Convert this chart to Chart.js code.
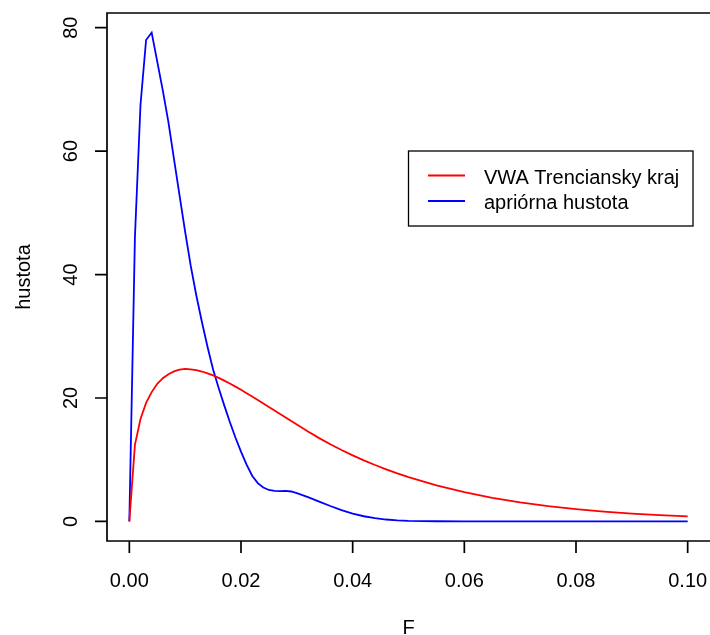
<!DOCTYPE html>
<html lang="sk">

<head>
  <meta charset="UTF-8">
  <title>hustota F</title>
  <style>
    html, body {
      margin: 0;
      padding: 0;
      background: #ffffff;
    }

    #chart-box {
      width: 710px;
      height: 635px;
    }
  </style>
</head>

<body>
  <div id="chart-box">
    <canvas id="densityChart" width="710" height="635"></canvas>
  </div>

  <script src="https://cdn.jsdelivr.net/npm/chart.js@4.4.1/dist/chart.umd.min.js"></script>
  <script>
    // F grid the two densities were read on
    const fValues = [
      0.000, 0.001, 0.002, 0.003, 0.004, 0.005, 0.006, 0.007, 0.008, 0.009, 0.010,
      0.011, 0.012, 0.013, 0.014, 0.015, 0.016, 0.017, 0.018, 0.019, 0.020,
      0.021, 0.022, 0.023, 0.024, 0.025, 0.026, 0.027, 0.028, 0.029, 0.030,
      0.032, 0.034, 0.036, 0.038, 0.040, 0.042, 0.044, 0.046, 0.048, 0.050,
      0.055, 0.060, 0.065, 0.070, 0.075, 0.080, 0.085, 0.090, 0.095, 0.100
    ];
    const vwaDensity = [
      0, 12.4, 16.6, 19.2, 20.95, 22.3, 23.2, 23.85, 24.3, 24.58, 24.7,
      24.65, 24.51, 24.29, 24.0, 23.65, 23.25, 22.81, 22.34, 21.84, 21.32,
      20.78, 20.23, 19.67, 19.1, 18.53, 17.96, 17.39, 16.82, 16.26, 15.7,
      14.57, 13.5, 12.5, 11.58, 10.71, 9.9, 9.14, 8.44, 7.78, 7.18,
      5.83, 4.73, 3.83, 3.09, 2.48, 1.99, 1.6, 1.27, 1.02, 0.83
    ];
    const priorDensity = [
      0, 46, 67.5, 78, 79.2, 74.5, 69.8, 64.7, 58.7, 52.8, 46.9,
      41.4, 36.6, 32.3, 28.3, 24.6, 21.6, 18.8, 16.1, 13.6, 11.3,
      9.2, 7.4, 6.2, 5.5, 5.1, 4.95, 4.9, 4.95, 4.85, 4.6,
      3.95, 3.22, 2.5, 1.84, 1.28, 0.84, 0.52, 0.31, 0.18, 0.1,
      0.03, 0.01, 0, 0, 0, 0, 0, 0, 0, 0
    ];
    const seriesLabels = ['VWA Trenciansky kraj', 'apriórna hustota'];
    const seriesColors = ['#ff0000', '#0000ff'];

    const xTicks = [0, 0.02, 0.04, 0.06, 0.08, 0.1];
    const xTickLabels = ['0.00', '0.02', '0.04', '0.06', '0.08', '0.10'];
    const yTicks = [0, 20, 40, 60, 80];
    const yTickLabels = ['0', '20', '40', '60', '80'];
    const xTitle = 'F';
    const yTitle = 'hustota';

    const FONT = '20px "Liberation Sans", Arial, Helvetica, sans-serif';

    function toPoints(ys) {
      return fValues.map((f, i) => ({ x: f, y: ys[i] }));
    }

    // R-style axes, box and legend drawn from the chart's own scales
    const baseGraphics = {
      id: 'baseGraphics',
      afterDraw(chart) {
        const ctx = chart.ctx;
        const area = chart.chartArea;
        const xs = chart.scales.x;
        const ys = chart.scales.y;
        const tick = 12;

        ctx.save();
        ctx.strokeStyle = '#000';
        ctx.fillStyle = '#000';
        ctx.lineWidth = 1.7;
        ctx.lineCap = 'butt';
        ctx.font = FONT;

        // box (right side falls off the canvas)
        ctx.beginPath();
        ctx.moveTo(area.right + 2, area.top);
        ctx.lineTo(area.left, area.top);
        ctx.lineTo(area.left, area.bottom);
        ctx.lineTo(area.right + 2, area.bottom);
        ctx.stroke();

        // x axis
        ctx.beginPath();
        xTicks.forEach(v => {
          const px = xs.getPixelForValue(v);
          ctx.moveTo(px, area.bottom);
          ctx.lineTo(px, area.bottom + tick);
        });
        ctx.stroke();
        ctx.textAlign = 'center';
        ctx.textBaseline = 'alphabetic';
        xTicks.forEach((v, i) => {
          ctx.fillText(xTickLabels[i], xs.getPixelForValue(v), 587);
        });
        ctx.fillText(xTitle, (area.left + 710) / 2, 634);

        // y axis
        ctx.beginPath();
        yTicks.forEach(v => {
          const py = ys.getPixelForValue(v);
          ctx.moveTo(area.left, py);
          ctx.lineTo(area.left - tick, py);
        });
        ctx.stroke();
        yTicks.forEach((v, i) => {
          ctx.save();
          ctx.translate(77, ys.getPixelForValue(v));
          ctx.rotate(-Math.PI / 2);
          ctx.fillText(yTickLabels[i], 0, 0);
          ctx.restore();
        });
        ctx.save();
        ctx.translate(29.5, (area.top + area.bottom) / 2);
        ctx.rotate(-Math.PI / 2);
        ctx.fillText(yTitle, 0, 0);
        ctx.restore();

        // legend
        ctx.lineWidth = 1.3;
        ctx.strokeRect(408.5, 151, 284.5, 75);
        ctx.textAlign = 'left';
        seriesLabels.forEach((label, i) => {
          const ly = 175.5 + i * 25.5;
          ctx.strokeStyle = seriesColors[i];
          ctx.lineWidth = 1.8;
          ctx.beginPath();
          ctx.moveTo(428, ly);
          ctx.lineTo(465, ly);
          ctx.stroke();
          ctx.fillText(label, 484, ly + 8);
        });
        ctx.restore();
      }
    };

    new Chart(document.getElementById('densityChart'), {
      type: 'line',
      data: {
        datasets: [
          {
            label: seriesLabels[0],
            data: toPoints(vwaDensity),
            borderColor: seriesColors[0],
            borderWidth: 1.8,
            pointRadius: 0,
            tension: 0,
            fill: false
          },
          {
            label: seriesLabels[1],
            data: toPoints(priorDensity),
            borderColor: seriesColors[1],
            borderWidth: 1.8,
            pointRadius: 0,
            tension: 0,
            fill: false
          }
        ]
      },
      options: {
        responsive: false,
        animation: false,
        devicePixelRatio: 1,
        layout: {
          padding: { left: 107, right: 0, top: 13, bottom: 94 }
        },
        plugins: {
          legend: { display: false },
          tooltip: { enabled: false }
        },
        scales: {
          x: { type: 'linear', min: -0.004, max: 0.104, display: false },
          y: { type: 'linear', min: -3.17, max: 82.37, display: false }
        }
      },
      plugins: [baseGraphics]
    });
  </script>
</body>

</html>
